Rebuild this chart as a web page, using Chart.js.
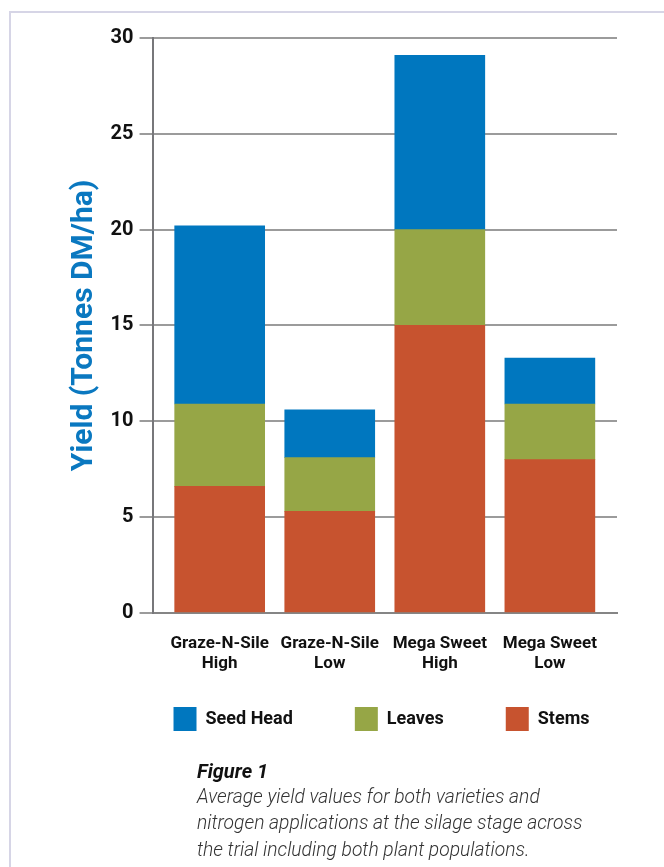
<!DOCTYPE html>
<html>
<head>
<meta charset="utf-8">
<title>Figure 1 - yield</title>
<script src="https://cdn.jsdelivr.net/npm/chart.js@4.4.0/dist/chart.umd.min.js"></script>
<style>
  html, body { margin: 0; padding: 0; background: #fff; overflow: hidden; }
  #page { position: relative; width: 664px; height: 867px; }
  #frame { position: absolute; left: 9px; top: 11px; width: 720px; height: 900px;
           border-top: 2px solid #d6d5e6; border-left: 2px solid #d6d5e6; }
  #wrap { position: absolute; left: 0; top: 0; width: 664px; height: 782px; }
  #caption { position: absolute; left: 197px; top: 758px; font-family: Roboto, sans-serif; color: #333; }
  #caption .fig { font-weight: 700; font-style: italic; font-size: 20px; line-height: 26px; color: #111; }
  #caption .txt { font-weight: 300; font-style: italic; font-size: 19.3px; line-height: 26.3px; }
</style>
</head>
<body>
<div id="page">
  <div id="frame"></div>
  <div id="wrap"><canvas id="graph"></canvas></div>
  <div id="caption">
    <div class="fig">Figure 1</div>
    <div class="txt">Average yield values for both varieties and<br>nitrogen applications at the silage stage across<br>the trial including both plant populations.</div>
  </div>
</div>
<script>
// values (tonnes DM/ha, each part of the stack)
const categories = [['Graze-N-Sile', 'High'], ['Graze-N-Sile', 'Low'], ['Mega Sweet', 'High'], ['Mega Sweet', 'Low']];
const stems = [6.6, 5.3, 15.0, 8.0];
const leaves = [4.3, 2.8, 5.0, 2.9];
const seedHead = [9.3, 2.5, 9.1, 2.4];
const yMax = 30;
const yStep = 5;
const xMin = -0.61;
const xMax = 3.61;

function points(arr){
  return arr.map(function(v, i){ return {x: i, y: v}; });
}

// legend sits a bit right and up from where chart.js puts it
const legendNudge = {
  id: 'legendNudge',
  afterLayout: function(chart){
    var lg = chart.legend;
    lg.left += 40; lg.right += 40;
    lg.top -= 37; lg.bottom -= 37;
  }
};

const data = {
  datasets: [
    {label: 'Stems', data: points(stems), backgroundColor: '#c7532f', borderWidth: 0},
    {label: 'Leaves', data: points(leaves), backgroundColor: '#96a646', borderWidth: 0},
    {label: 'Seed Head', data: points(seedHead), backgroundColor: '#0077bf', borderWidth: 0}
  ]
};

const bar = {
  type: 'bar',
  data: data,
  options: {
    responsive: true,
    maintainAspectRatio: false,
    animation: false,
    barThickness: 90,
    layout: { padding: {left: 66, top: 38, right: 47, bottom: 4} },
    plugins: {
      legend: {
        position: 'bottom',
        reverse: true,
        labels: {
          boxWidth: 23, boxHeight: 24, padding: 62, color: '#111',
          font: {family: 'Roboto', weight: 'bold', size: 18}
        }
      },
      tooltip: { enabled: false }
    },
    scales: {
      x: {
        type: 'linear', min: xMin, max: xMax, stacked: true, offset: false,
        // one tick at the left edge (draws the axis stub below zero) + one per category
        afterBuildTicks: function(scale){
          scale.ticks = [{value: xMin}].concat(categories.map(function(c, i){ return {value: i}; }));
        },
        grid: {
          display: true, drawOnChartArea: false, tickLength: 13, lineWidth: 2,
          color: function(ctx){ return ctx.index === 0 ? '#77777a' : 'rgba(0,0,0,0)'; }
        },
        border: { display: true, color: '#858585', width: 2 },
        ticks: {
          autoSkip: false, maxRotation: 0, padding: 8, color: '#111',
          font: {family: 'Roboto', weight: 'bold', size: 17, lineHeight: 1.18},
          callback: function(v){ return Number.isInteger(v) ? categories[v] : ''; }
        }
      },
      y: {
        stacked: true, min: 0, max: yMax,
        grid: { color: '#9b9b9b', lineWidth: 2, tickLength: 13 },
        border: { color: '#77777a', width: 2 },
        ticks: {
          stepSize: yStep, padding: 6, color: '#111',
          font: {family: 'Roboto', weight: 'bold', size: 20}
        },
        title: {
          display: true, text: 'Yield (Tonnes DM/ha)', color: '#0a78c0',
          font: {family: 'Roboto', weight: 'bold', size: 30},
          padding: {top: 0, bottom: 2.6}
        }
      }
    }
  },
  plugins: [legendNudge]
};

var chart = new Chart(document.getElementById('graph'), bar);
</script>
</body>
</html>
